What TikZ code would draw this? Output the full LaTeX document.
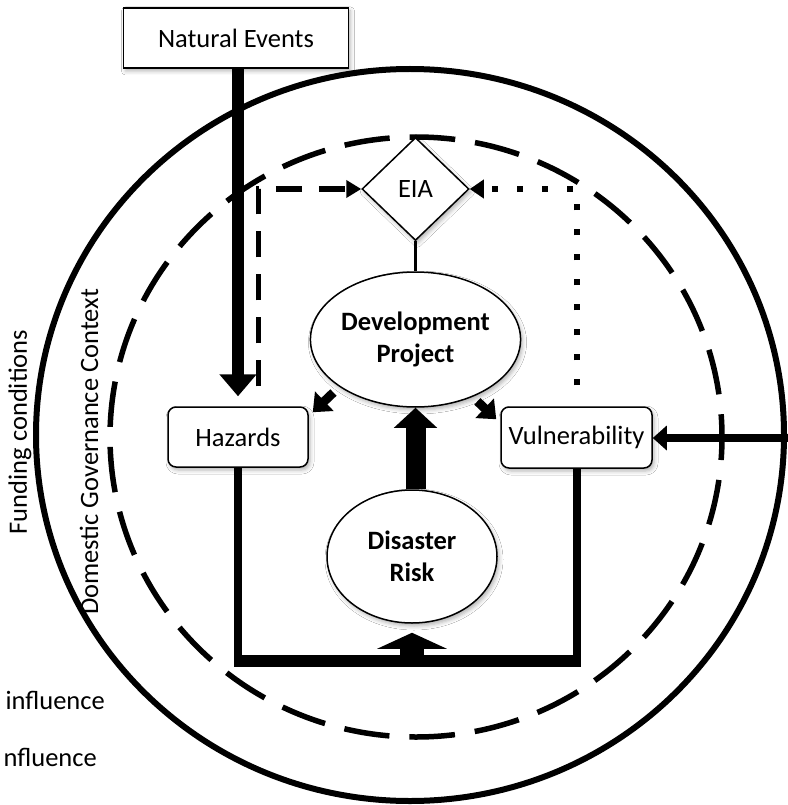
\documentclass[tikz,border=0pt]{standalone}
\usepackage{fontspec}
\setmainfont{Carlito}
\usetikzlibrary{arrows.meta,shapes.geometric,shadows.blur,calc}

\begin{document}
\begin{tikzpicture}[x=1pt,y=-1pt,
  every node/.style={font=\fontsize{26.5}{32}\selectfont},
  softshadow/.style={blur shadow={shadow xshift=2pt, shadow yshift=-3pt,
      shadow blur radius=4pt, shadow opacity=30}},
  box/.style={draw, line width=1.5pt, fill=white, inner sep=0pt, softshadow},
  roundbox/.style={box, rounded corners=8pt},
  oval/.style={ellipse, box, align=center, font=\fontsize{26.5}{32}\selectfont\bfseries},
  heavy/.style={line width=#1, line cap=butt},
]
\useasboundingbox (0,0) rectangle (787,805);
\fill[white] (0,0) rectangle (787,805);

% outer ring (funding conditions) and inner dashed ring (governance context)
\draw[line width=6pt] (410,435) ellipse [x radius=374pt, y radius=366pt];
\draw[line width=5.5pt, dash pattern=on 45.6pt off 20.05pt, dash phase=22.8pt]
  (416,437) ellipse [x radius=306pt, y radius=300pt];

% nodes
\node[box, minimum width=225pt, minimum height=60pt] (ne) at (236,38) {Natural Events};
\node[diamond, box, minimum width=107pt, minimum height=103pt] (eia) at (415.5,189) {EIA};
\node[oval, minimum width=171pt, minimum height=135pt] (dp) at (415.5,339.5) {Development\\Project};
\node[oval, minimum width=170pt, minimum height=133pt] (dr) at (412,556.5) {Disaster\\Risk};
\node[roundbox, minimum width=140pt, minimum height=60pt] (haz) at (238,437) {Hazards};
\node[roundbox, minimum width=151pt, minimum height=61pt] (vul) at (576.5,437.5) {Vulnerability};

% side labels
\node[rotate=90] (fund) at (20,432) {Funding conditions};
\node[rotate=90] (dom) at (89,452) {Domestic Governance Context};
\node[anchor=east, inner sep=0pt] (inf1) at (105,700) {influence};
\node[anchor=east, inner sep=0pt] (inf2) at (97,757) {nfluence};

% natural events feed the hazards
\draw[heavy=12pt, -{Triangle[length=22pt,width=36pt]}]
  (ne.south -| haz.north) -- ([yshift=10pt]haz.north);

% hazards and vulnerability inform the EIA
\draw[line width=5pt, dash pattern=on 26pt off 17pt, -{Triangle[length=15pt,width=17pt]}]
  ([xshift=20pt,yshift=20pt]haz.north) |- (eia.west);
\draw[line width=6pt, dash pattern=on 6pt off 19pt, -{Triangle[length=14pt,width=18pt]}]
  ([yshift=21pt]vul.north) |- (eia.east);

% EIA to project
\draw[line width=3pt] (eia.south) -- (dp.north);

% project affects hazards and vulnerability
\draw[heavy=9pt, -{Triangle[length=16pt,width=26pt]}]
  ([shift={(-7.5pt,-4.6pt)}]dp.213) -- ([shift={(4pt,-6pt)}]haz.north east);
\draw[heavy=9pt, -{Triangle[length=16pt,width=26pt]}]
  ([shift={(4.5pt,-4.5pt)}]dp.315) -- ([shift={(-4pt,-13pt)}]vul.north west);

% disaster risk back to the project
\draw[heavy=20pt, -{Triangle[length=20pt,width=42pt]}]
  (dr.north -| dp.south) -- (dp.south);

% hazards and vulnerability combine into disaster risk
\coordinate (base) at (412,661);
\draw[heavy=8pt] (haz.south) -- (haz.south |- base);
\draw[heavy=8pt] (vul.south) -- (vul.south |- base);
\draw[heavy=12pt] ([xshift=-4pt]haz.south |- base) -- ([xshift=4.5pt]vul.south |- base);
\draw[heavy=24pt, -{Triangle[length=16pt,width=69pt]}]
  (base) -- ([yshift=-9pt]dr.south);

% funding conditions act on vulnerability
\coordinate (rin) at (792,438);
\draw[heavy=8pt, -{Triangle[length=14pt,width=24pt]}] (rin) -- (vul.east |- rin);
\end{tikzpicture}
\end{document}
